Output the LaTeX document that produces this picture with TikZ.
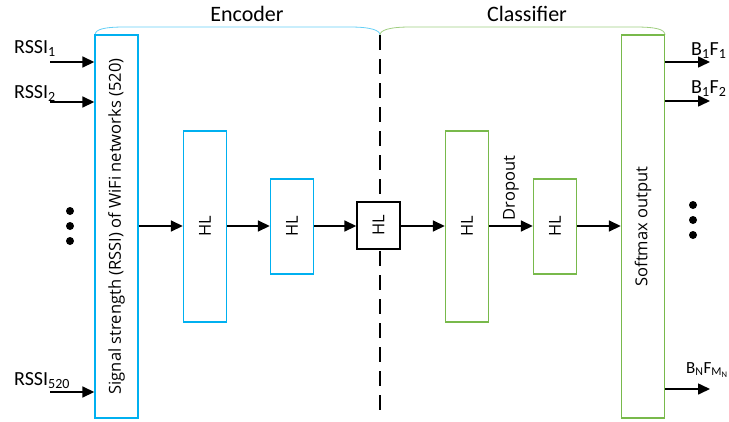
\documentclass[tikz,border=0pt]{standalone}
\usepackage{fontspec}
\setmainfont{Carlito}
\newfontfamily\boxfont{Open Sans}
\usepackage{tikz}
\usetikzlibrary{arrows.meta,positioning,calc}
\tikzset{
  >={Triangle[length=12pt,width=11pt]},
  every node/.append style={font=\normalsize},
}
\definecolor{enccyan}{RGB}{0,176,240}
\definecolor{clsgreen}{RGB}{120,185,75}

\begin{document}
\begin{tikzpicture}[
  x=1pt, y=-1pt,
  layer/.style={draw, line width=1.4pt, fill=white, minimum width=43pt, inner sep=0pt},
  enc/.style={layer, draw=enccyan},
  cls/.style={layer, draw=clsgreen},
  lbl/.style={rotate=90, font=\boxfont\fontsize{16.5}{18}\selectfont},
  arrow/.style={->, line width=1.6pt},
  io/.style={font=\fontsize{20}{22}\selectfont, inner sep=0pt},
  dot/.style={circle, fill=black, inner sep=0pt, minimum size=8pt}
]
\useasboundingbox (0,0) rectangle (729,421);

% Braces
\draw[enccyan!60, line width=0.8pt] (95,35) .. controls (95,29) and (105,27) .. (125,27) -- (350,27) .. controls (370,27) and (380,30) .. (380,35);
\draw[clsgreen!70, line width=0.8pt] (380,35) .. controls (380,30) and (390,27) .. (410,27) -- (635,27) .. controls (655,27) and (665,29) .. (665,35);
\node[font=\fontsize{22}{24}\selectfont] (enctitle) at (247,14) {Encoder};
\node[font=\fontsize{22}{24}\selectfont] (clstitle) at (527,14) {Classifier};

% Split line
\coordinate (splittop) at (380,35);
\coordinate (splitbot) at (380,418);
\draw[line width=1.6pt, dash pattern=on 15pt off 9pt] (splittop) -- (splitbot);

% Layers
\node[enc, minimum height=383pt] (input) at (116.5,226.5) {};
\node[lbl] at (input) {Signal strength (RSSI) of WiFi networks (520)};
\node[enc, minimum height=191pt] (hl1) at (205,226.5) {};
\node[lbl] at (hl1) {HL};
\node[enc, minimum height=95pt] (hl2) at (292,226.5) {};
\node[lbl] at (hl2) {HL};
\node[layer, draw=black, minimum height=47pt] (code) at (378.5,225.5) {};
\node[lbl] at (code) {HL};
\node[cls, minimum height=191pt] (hl3) at (467,226.5) {};
\node[lbl] at (hl3) {HL};
\node[cls, minimum height=95pt] (hl4) at (555,226.5) {};
\node[lbl] at (hl4) {HL};
\node[cls, minimum height=383pt] (softmax) at (643,226.5) {};
\node[lbl] at (softmax) {Softmax output};

% Flow
\draw[arrow] (input.east |- 0,226) -- (hl1.west |- 0,226);
\draw[arrow] (hl1.east |- 0,226) -- (hl2.west |- 0,226);
\draw[arrow] (hl2.east |- 0,226) -- (code.west |- 0,226);
\draw[arrow] (code.east |- 0,226) -- (hl3.west |- 0,226);
\draw[arrow] (hl3.east |- 0,226) -- node[lbl, anchor=west, xshift=4pt, inner sep=1pt] {Dropout} (hl4.west |- 0,226);
\draw[arrow] (hl4.east |- 0,226) -- (softmax.west |- 0,226);

% Inputs
\coordinate (in1) at (50,62);
\coordinate (in2) at (50,102);
\coordinate (in3) at (50,392);
\draw[arrow] (in1) -- (input.west |- in1);
\draw[arrow] (in2) -- (input.west |- in2);
\draw[arrow] (in3) -- (input.west |- in3);
\node[io, anchor=base west] (rssi1) at (14,53) {RSSI\textsubscript{1}};
\node[io, anchor=base west] (rssi2) at (14,98) {RSSI\textsubscript{2}};
\node[io, anchor=base west] (rssin) at (14,385) {RSSI\textsubscript{520}};
\node[dot] (idot1) at (70,211) {};
\node[dot] (idot2) at (70,226) {};
\node[dot] (idot3) at (70,241) {};

% Outputs
\coordinate (out1) at (710,62);
\coordinate (out2) at (710,101);
\coordinate (out3) at (710,389);
\draw[arrow] (softmax.east |- out1) -- (out1);
\draw[arrow] (softmax.east |- out2) -- (out2);
\draw[arrow] (softmax.east |- out3) -- (out3);
\node[io, anchor=base west] (bf1) at (691,55) {B$_{\mathrm{1}}$F$_{\mathrm{1}}$};
\node[io, anchor=base west] (bf2) at (691,93) {B$_{\mathrm{1}}$F$_{\mathrm{2}}$};
\node[io, anchor=base west, font=\fontsize{17}{19}\selectfont] (bfn) at (686,373) {B$_{\mathrm{N}}$F$_{\mathrm{M_N}}$};
\node[dot] (odot1) at (693,205) {};
\node[dot] (odot2) at (693,220) {};
\node[dot] (odot3) at (693,235) {};
\end{tikzpicture}
\end{document}
